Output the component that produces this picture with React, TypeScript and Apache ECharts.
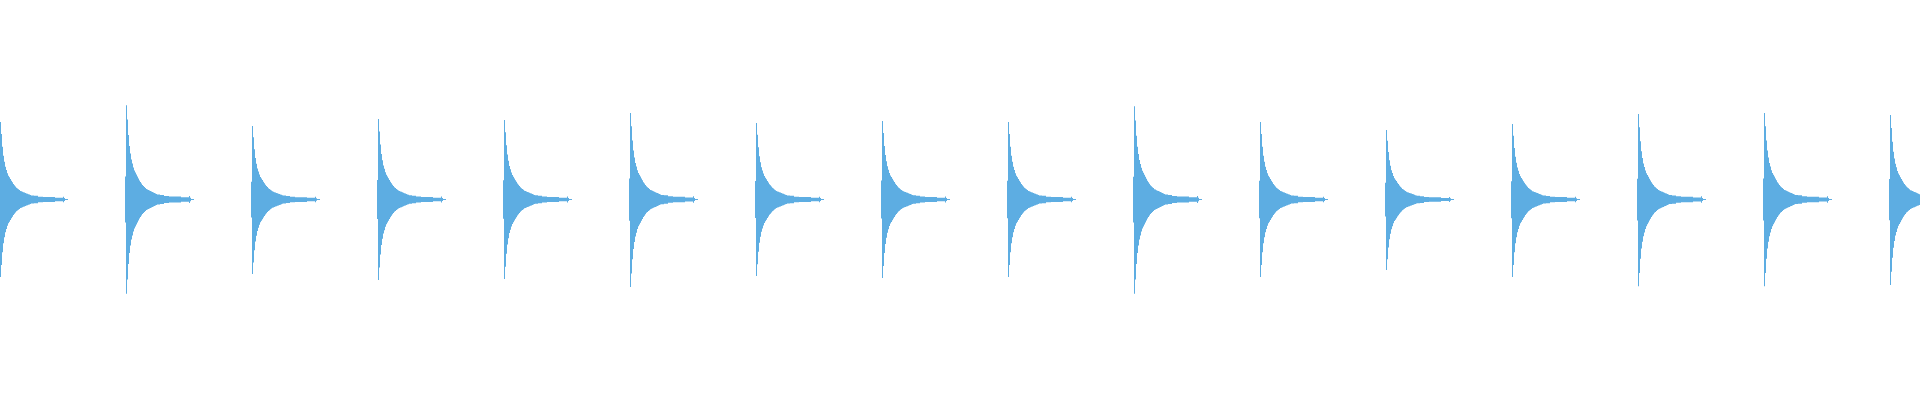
import React, { useEffect, useRef } from 'react';
import * as echarts from 'echarts';

// start of every click (x in samples, 1 sample = 1 px)
const pulseStarts = [-1, 125, 251, 377, 503, 629, 755, 881, 1007, 1133, 1259, 1385, 1511, 1637, 1763, 1889];

// peak amplitude of each click, above and below the zero line (full scale = 1)
const peakUp = [0.388, 0.473, 0.368, 0.403, 0.398, 0.433, 0.383, 0.393, 0.388, 0.468, 0.388, 0.348, 0.378, 0.428, 0.433, 0.423];
const peakDown = [0.388, 0.473, 0.373, 0.403, 0.398, 0.438, 0.383, 0.393, 0.388, 0.473, 0.388, 0.353, 0.388, 0.435, 0.435, 0.428];

// decay envelope of one click, relative to its peak, one value per sample
const envelope = [
  0.243, 1, 0.847, 0.683, 0.566, 0.487, 0.423, 0.381, 0.339, 0.307,
  0.286, 0.265, 0.243, 0.222, 0.201, 0.185, 0.169, 0.153, 0.143, 0.132,
  0.122, 0.111, 0.106, 0.1, 0.095, 0.09, 0.085, 0.079, 0.074, 0.069,
  0.063, 0.058, 0.053, 0.053, 0.053, 0.048, 0.048, 0.048, 0.048, 0.037,
  0.037, 0.037, 0.037, 0.037, 0.032, 0.032, 0.032, 0.032, 0.032, 0.032,
  0.032, 0.032, 0.032, 0.032, 0.032, 0.032, 0.023, 0.023, 0.023, 0.023,
  0.023, 0.023, 0.023, 0.023, 0.037, 0.018, 0.006, 0.006, 0.006,
];

const WAVE_COLOR = '#5dade2';

const Waveform: React.FC = () => {
  const chartRef = useRef<HTMLDivElement>(null);

  useEffect(() => {
    if (!chartRef.current) return;
    const chart = echarts.init(chartRef.current, undefined, { renderer: 'svg' });

    const clicks = pulseStarts.map((start, k) => [start, peakUp[k], peakDown[k]]);

    // one stepped polygon per click: upper edge left to right, lower edge back
    const renderClick = (params: any, api: any) => {
      const start = api.value(0);
      const up = api.value(1);
      const down = api.value(2);
      const top: number[][] = [];
      const bottom: number[][] = [];
      envelope.forEach((v, d) => {
        top.push(api.coord([start + d, up * v]));
        top.push(api.coord([start + d + 1, up * v]));
        bottom.push(api.coord([start + d, -down * v]));
        bottom.push(api.coord([start + d + 1, -down * v]));
      });
      const points = top.concat(bottom.reverse());
      return {
        type: 'polygon',
        shape: { points },
        style: { fill: WAVE_COLOR, stroke: 'none' },
      };
    };

    const option: any = {
      animation: false,
      grid: { left: 0, right: 0, top: 0, bottom: 1 },
      xAxis: { type: 'value', min: 0, max: 1920, show: false },
      yAxis: { type: 'value', min: -1, max: 1, show: false },
      series: [
        {
          type: 'custom',
          data: clicks,
          renderItem: renderClick,
          clip: true,
          silent: true,
          encode: { x: 0, y: 1 },
        },
      ],
    };
    chart.setOption(option);

    return () => {
      chart.dispose();
    };
  }, []);

  return (
    <div
      ref={chartRef}
      style={{ position: 'absolute', left: 0, top: 0, width: '1920px', height: '400px' }}
    ></div>
  );
};

export default function App() {
  return <Waveform />;
}
